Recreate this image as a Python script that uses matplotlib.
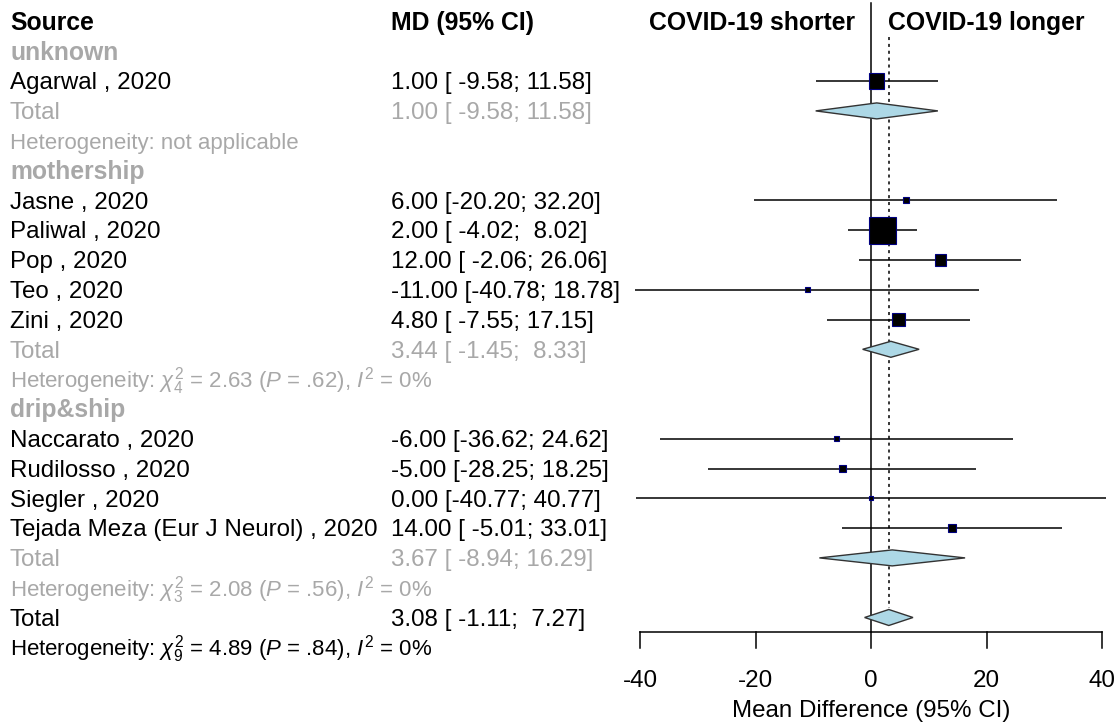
import matplotlib
matplotlib.use("Agg")
import matplotlib.pyplot as plt
from matplotlib.patches import Rectangle, Polygon
import numpy as np

plt.rcParams['font.family'] = ['Liberation Sans', 'DejaVu Sans']
plt.rcParams['mathtext.fontset'] = 'custom'
plt.rcParams['mathtext.rm'] = 'Liberation Sans'
plt.rcParams['mathtext.it'] = 'Liberation Sans:italic'
plt.rcParams['mathtext.bf'] = 'Liberation Sans:bold'

# ---------------- data ----------------
studies = ["Agarwal , 2020",
           "Jasne , 2020", "Paliwal , 2020", "Pop , 2020", "Teo , 2020", "Zini , 2020",
           "Naccarato , 2020", "Rudilosso , 2020", "Siegler , 2020",
           "Tejada Meza (Eur J Neurol) , 2020"]
study_group = ["unknown",
               "mothership", "mothership", "mothership", "mothership", "mothership",
               "drip&ship", "drip&ship", "drip&ship", "drip&ship"]
md = [1.00, 6.00, 2.00, 12.00, -11.00, 4.80, -6.00, -5.00, 0.00, 14.00]
lower = [-9.58, -20.20, -4.02, -2.06, -40.78, -7.55, -36.62, -28.25, -40.77, -5.01]
upper = [11.58, 32.20, 8.02, 26.06, 18.78, 17.15, 24.62, 18.25, 40.77, 33.01]
md_text = ["1.00 [ -9.58; 11.58]",
           "6.00 [-20.20; 32.20]", "2.00 [ -4.02;  8.02]", "12.00 [ -2.06; 26.06]",
           "-11.00 [-40.78; 18.78]", "4.80 [ -7.55; 17.15]",
           "-6.00 [-36.62; 24.62]", "-5.00 [-28.25; 18.25]", "0.00 [-40.77; 40.77]",
           "14.00 [ -5.01; 33.01]"]

groups = ["unknown", "mothership", "drip&ship"]
group_md = [1.00, 3.44, 3.67]
group_lower = [-9.58, -1.45, -8.94]
group_upper = [11.58, 8.33, 16.29]
group_text = ["1.00 [ -9.58; 11.58]", "3.44 [ -1.45;  8.33]", "3.67 [ -8.94; 16.29]"]
group_het = ["Heterogeneity: not applicable",
             r"Heterogeneity: $\chi^2_4$ = 2.63 ($P$ = .62), $I^2$ = 0%",
             r"Heterogeneity: $\chi^2_3$ = 2.08 ($P$ = .56), $I^2$ = 0%"]

overall_md = 3.08
overall_lower = -1.11
overall_upper = 7.27
overall_text = "3.08 [ -1.11;  7.27]"
overall_het = r"Heterogeneity: $\chi^2_9$ = 4.89 ($P$ = .84), $I^2$ = 0%"

xticks = [-40, -20, 0, 20, 40]
xlabel = "Mean Difference (95% CI)"
left_label = "COVID-19 shorter"
right_label = "COVID-19 longer"

# ---------------- layout ----------------
W, H = 1119, 727
fig = plt.figure(figsize=(W / 100, H / 100), dpi=100)
fig.patch.set_facecolor("white")

tax = fig.add_axes([0, 0, 1, 1])
tax.set_xlim(0, W)
tax.set_ylim(H, 0)
tax.axis("off")

px_per_unit = 5.775
x0px = 871
fl, fr = 632, 1110
fax = fig.add_axes([fl / W, 0, (fr - fl) / W, 1])
fax.set_xlim((fl - x0px) / px_per_unit, (fr - x0px) / px_per_unit)
fax.set_ylim(H, 0)
fax.axis("off")

row0, dy = 21.5, 29.8
def ry(i):
    return row0 + dy * i

BL = 8.3  # baseline offset from row centre (pixels)

GRAY = "#A8A8A8"
FS = 17.4
FS_B = 17.8
FS_H = 16.0
col1, col2 = 10, 391

def txt(x, y, s, **kw):
    kw.setdefault("fontsize", FS)
    tax.text(x, y + BL, s, va="baseline", **kw)

txt(col1, ry(0), "Source", fontsize=FS_B, fontweight="bold", ha="left")
txt(col2, ry(0), "MD (95% CI)", fontsize=FS_B, fontweight="bold", ha="left")
txt(855, ry(0), left_label, fontsize=FS_B, fontweight="bold", ha="right")
txt(888, ry(0), right_label, fontsize=FS_B, fontweight="bold", ha="left")

# weights (inverse variance from the CI)
se = [(u - l) / (2 * 1.96) for l, u in zip(lower, upper)]
w = [1 / s ** 2 for s in se]
wmax = max(w)

def diamond(center, lo, hi, y, color_edge="#333333"):
    h = 8
    poly = Polygon([[lo, y], [center, y - h], [hi, y], [center, y + h]],
                   closed=True, facecolor="#ADD8E6", edgecolor=color_edge, lw=1.0, zorder=4)
    fax.add_patch(poly)

row = 1
for g, gname in enumerate(groups):
    txt(col1, ry(row), gname, fontsize=FS_B, fontweight="bold", color=GRAY)
    row += 1
    for i, sg in enumerate(study_group):
        if sg != gname:
            continue
        y = ry(row)
        txt(col1, y, studies[i])
        txt(col2, y, md_text[i])
        fax.plot([lower[i], upper[i]], [y, y], color="black", lw=1.1, zorder=3,
                 solid_capstyle="butt")
        side = 27 * np.sqrt(w[i] / wmax)
        fax.add_patch(Rectangle((md[i] - side / 2 / px_per_unit, y - side / 2),
                                side / px_per_unit, side, facecolor="black",
                                edgecolor="#000080", lw=0.8, zorder=5))
        row += 1
    y = ry(row)
    txt(col1, y, "Total", color=GRAY)
    txt(col2, y, group_text[g], color=GRAY)
    diamond(group_md[g], group_lower[g], group_upper[g], y)
    row += 1
    txt(col1, ry(row), group_het[g], fontsize=FS_H, color=GRAY)
    row += 1

y = ry(row)
txt(col1, y, "Total")
txt(col2, y, overall_text)
diamond(overall_md, overall_lower, overall_upper, y)
overall_y = y
row += 1
txt(col1, ry(row), overall_het, fontsize=FS_H)

axis_y = 632
fax.plot([0, 0], [3, axis_y], color="black", lw=1.1, zorder=2)
fax.plot([overall_md, overall_md], [37, overall_y - 10], color="black", lw=1.1,
         ls=(0, (2, 2.5)), zorder=2)

fax.plot([xticks[0], xticks[-1]], [axis_y, axis_y], color="black", lw=1.1, clip_on=False)
for t in xticks:
    fax.plot([t, t], [axis_y, axis_y + 16], color="black", lw=1.1, clip_on=False)
    fax.text(t, 681, f"{t}", fontsize=FS, ha="center", va="center", clip_on=False)
fax.text(0, 711, xlabel, fontsize=FS, ha="center", va="center", clip_on=False)

fig.savefig("out.png", dpi=100)
